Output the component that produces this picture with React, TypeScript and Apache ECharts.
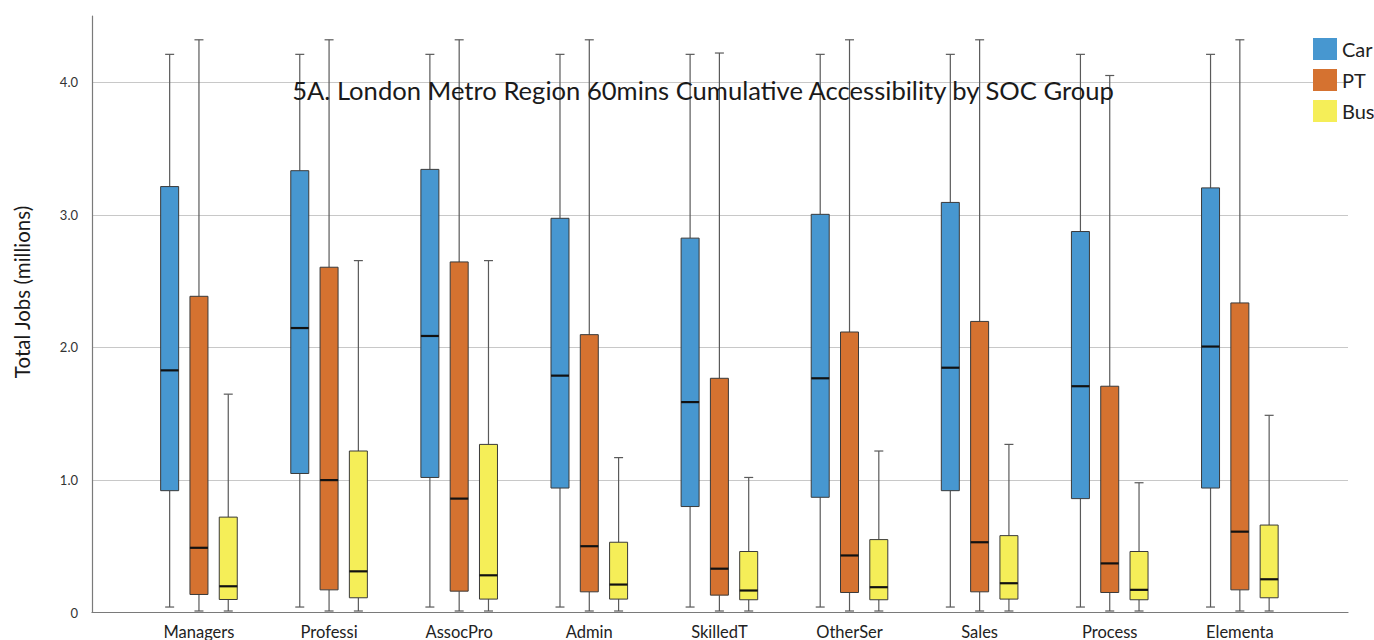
import React, { useEffect, useRef } from "react";
import * as echarts from "echarts";

const categories = ["Managers", "Professi", "AssocPro", "Admin", "SkilledT", "OtherSer", "Sales", "Process", "Elementa"];
const seriesNames = ["Car", "PT", "Bus"];
const yTicks = [0, 1, 2, 3, 4];

// [min, Q1, median, Q3, max] per category
const carStats = [
  [0.03, 0.91, 1.82, 3.21, 4.21],
  [0.03, 1.04, 2.14, 3.33, 4.21],
  [0.03, 1.01, 2.08, 3.34, 4.21],
  [0.03, 0.93, 1.78, 2.97, 4.21],
  [0.03, 0.79, 1.58, 2.82, 4.21],
  [0.03, 0.86, 1.76, 3.0, 4.21],
  [0.03, 0.91, 1.84, 3.09, 4.21],
  [0.03, 0.85, 1.7, 2.87, 4.21],
  [0.03, 0.93, 2.0, 3.2, 4.21],
];
const ptStats = [
  [0, 0.125, 0.478, 2.38, 4.32],
  [0, 0.16, 0.99, 2.6, 4.32],
  [0, 0.15, 0.85, 2.64, 4.32],
  [0, 0.145, 0.49, 2.09, 4.32],
  [0, 0.12, 0.32, 1.76, 4.22],
  [0, 0.14, 0.42, 2.11, 4.32],
  [0, 0.145, 0.52, 2.19, 4.32],
  [0, 0.14, 0.36, 1.7, 4.05],
  [0, 0.16, 0.6, 2.33, 4.32],
];
const busStats = [
  [0, 0.087, 0.187, 0.71, 1.64],
  [0, 0.1, 0.3, 1.21, 2.65],
  [0, 0.09, 0.27, 1.26, 2.65],
  [0, 0.09, 0.2, 0.52, 1.16],
  [0, 0.085, 0.155, 0.45, 1.01],
  [0, 0.085, 0.18, 0.54, 1.21],
  [0, 0.09, 0.21, 0.57, 1.26],
  [0, 0.085, 0.16, 0.45, 0.97],
  [0, 0.1, 0.24, 0.65, 1.48],
];

const colors = ["#4797D0", "#D57230", "#F5EE58"];
const offsets = [-29.3, 0, 29.3];
const BOX_W = 18;
const CAP_W = 9;

const FONT = "Lato, 'Open Sans', sans-serif";

export default function App() {
  const ref = useRef<HTMLDivElement>(null);

  useEffect(() => {
    if (!ref.current) return;
    const chart = echarts.init(ref.current, undefined, { renderer: "svg" });
    const allStats = [carStats, ptStats, busStats];

    const makeRender = (sIdx: number) => (params: any, api: any) => {
      const i = api.value(0);
      const mn = api.value(1), q1 = api.value(2), md = api.value(3), q3 = api.value(4), mx = api.value(5);
      const base = api.coord([i, mn]);
      const cx = base[0] + offsets[sIdx];
      const yMin = base[1];
      const yQ1 = api.coord([i, q1])[1];
      const yMd = api.coord([i, md])[1];
      const yQ3 = api.coord([i, q3])[1];
      const yMx = api.coord([i, mx])[1];
      const wStyle = { stroke: "#5a5a5a", lineWidth: 1.2 };
      return {
        type: "group",
        children: [
          { type: "line", shape: { x1: cx, y1: yMx, x2: cx, y2: yQ3 }, style: wStyle },
          { type: "line", shape: { x1: cx, y1: yQ1, x2: cx, y2: yMin }, style: wStyle },
          { type: "line", shape: { x1: cx - CAP_W / 2, y1: yMx, x2: cx + CAP_W / 2, y2: yMx }, style: wStyle },
          { type: "line", shape: { x1: cx - CAP_W / 2, y1: yMin, x2: cx + CAP_W / 2, y2: yMin }, style: wStyle },
          {
            type: "rect",
            shape: { x: cx - BOX_W / 2, y: yQ3, width: BOX_W, height: yQ1 - yQ3 },
            style: { fill: colors[sIdx], stroke: "#3a3a3a", lineWidth: 1 },
          },
          { type: "line", shape: { x1: cx - BOX_W / 2, y1: yMd, x2: cx + BOX_W / 2, y2: yMd }, style: { stroke: "#111", lineWidth: 2.2 } },
        ],
      };
    };

    const option: any = {
      animation: false,
      backgroundColor: "#ffffff",
      title: {
        text: "5A. London Metro Region 60mins Cumulative Accessibility by SOC Group",
        left: 698,
        top: 72,
        textAlign: "center",
        textStyle: { fontFamily: FONT, fontSize: 25.6, fontWeight: "normal", color: "#1a1a1a" },
      },
      legend: {
        data: seriesNames,
        orient: "vertical",
        left: 1308,
        top: 33,
        icon: "rect",
        itemWidth: 24,
        itemHeight: 22,
        itemGap: 9,
        textStyle: { fontFamily: FONT, fontSize: 20, color: "#222" },
      },
      grid: [
        { left: 92, right: 26, top: 16, bottom: 27.5 },
        { left: 133.9, right: 69.1, top: 16, bottom: 27.5 },
      ],
      xAxis: [
        {
          gridIndex: 0,
          type: "value",
          min: 0,
          max: 1,
          axisLine: { show: true, lineStyle: { color: "#7a7a7a", width: 1.2 } },
          axisTick: { show: false },
          axisLabel: { show: false },
          splitLine: { show: false },
        },
        {
          gridIndex: 1,
          type: "category",
          data: categories,
          boundaryGap: true,
          axisLine: { show: false },
          axisTick: { show: false },
          axisLabel: { fontFamily: FONT, fontSize: 16.5, color: "#222", margin: 12 },
          splitLine: { show: false },
        },
      ],
      yAxis: [
        {
          gridIndex: 0,
          type: "value",
          min: 0,
          max: 4.5,
          interval: 1,
          axisLine: { show: true, lineStyle: { color: "#7a7a7a", width: 1.2 } },
          axisTick: { show: false },
          axisLabel: {
            fontFamily: FONT,
            fontSize: 13,
            color: "#333",
            margin: 14,
            showMaxLabel: false,
            formatter: (v: number) => (yTicks.indexOf(v) < 0 ? "" : v === 0 ? "0" : v.toFixed(1)),
          },
          splitLine: { show: true, showMaxLine: false, showMinLine: false, lineStyle: { color: "#c8c8c8", width: 1 } },
        },
        { gridIndex: 1, type: "value", min: 0, max: 4.5, show: false },
      ],
      graphic: [
        {
          type: "text",
          x: 22,
          y: 292,
          rotation: Math.PI / 2,
          style: {
            text: "Total Jobs (millions)",
            fontFamily: FONT,
            fontSize: 20.5,
            fill: "#1a1a1a",
            textAlign: "center",
            textVerticalAlign: "middle",
          },
        },
      ],
      series: seriesNames.map((name, sIdx) => ({
        name,
        type: "custom",
        xAxisIndex: 1,
        yAxisIndex: 1,
        itemStyle: { color: colors[sIdx] },
        encode: { x: 0, y: [1, 2, 3, 4, 5] },
        renderItem: makeRender(sIdx),
        data: allStats[sIdx].map((s, i) => [i, ...s]),
      })),
    };

    chart.setOption(option);
    return () => chart.dispose();
  }, []);

  return <div ref={ref} style={{ position: "fixed", left: 0, top: 0, width: 1374, height: 640 }} />;
}
